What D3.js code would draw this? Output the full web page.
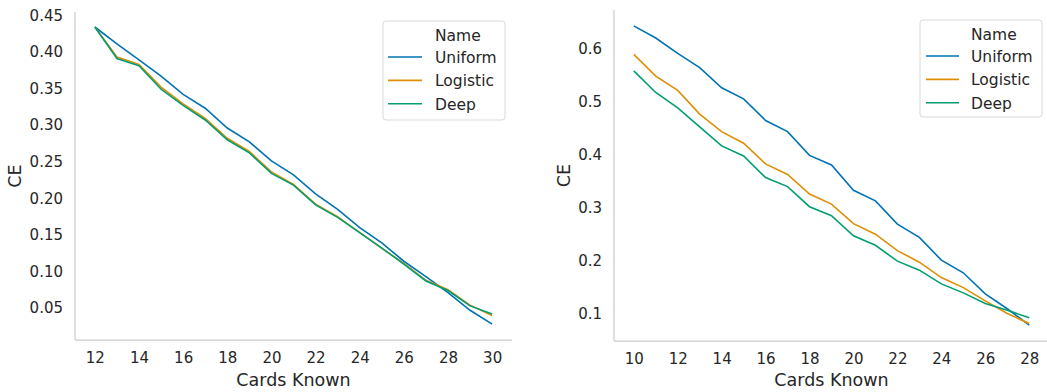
<!DOCTYPE html>
<html><head><meta charset="utf-8">
<script src="https://cdn.jsdelivr.net/npm/d3@7"></script>
<style>body{margin:0;background:#fff}svg{display:block}text{font-family:"DejaVu Sans",sans-serif;fill:#262626}</style>
</head><body>
<svg id="c" width="1047" height="392"></svg>
<script>
const seriesNames = ["Uniform","Logistic","Deep"];
const colors = ["#0173b2","#de8f05","#029e73"];

const leftX = d3.range(12,31);
const leftUniform  = [0.434,0.411,0.389,0.367,0.342,0.323,0.296,0.277,0.251,0.232,0.206,0.185,0.160,0.139,0.114,0.093,0.071,0.047,0.028];
const leftLogistic = [0.434,0.393,0.383,0.352,0.329,0.309,0.282,0.264,0.236,0.219,0.192,0.175,0.153,0.132,0.111,0.088,0.075,0.054,0.040];
const leftDeep     = [0.434,0.391,0.381,0.349,0.327,0.307,0.280,0.262,0.234,0.218,0.191,0.174,0.153,0.132,0.110,0.087,0.074,0.053,0.042];
const leftYTicks = [0.05,0.10,0.15,0.20,0.25,0.30,0.35,0.40,0.45];
const leftXTicks = [12,14,16,18,20,22,24,26,28,30];

const rightX = d3.range(10,29);
const rightUniform  = [0.644,0.621,0.592,0.565,0.527,0.506,0.465,0.444,0.399,0.381,0.333,0.313,0.269,0.244,0.201,0.177,0.137,0.109,0.078];
const rightLogistic = [0.590,0.549,0.522,0.477,0.444,0.422,0.383,0.363,0.326,0.307,0.270,0.250,0.219,0.197,0.168,0.149,0.124,0.100,0.081];
const rightDeep     = [0.559,0.518,0.489,0.453,0.417,0.398,0.357,0.340,0.302,0.285,0.247,0.229,0.199,0.182,0.156,0.139,0.119,0.106,0.092];
const rightYTicks = [0.1,0.2,0.3,0.4,0.5,0.6];
const rightXTicks = [10,12,14,16,18,20,22,24,26,28];

const svg = d3.select("#c");

function panel(cfg){
  const g = svg.append("g");
  const x = d3.scaleLinear().domain(cfg.xDomain).range([cfg.x0, cfg.x1]);
  const y = d3.scaleLinear().domain(cfg.yDomain).range([cfg.y1, cfg.y0]);
  g.append("line").attr("x1",cfg.x0).attr("x2",cfg.x0).attr("y1",cfg.y0).attr("y2",cfg.y1).attr("stroke","#cccccc").attr("stroke-width",1.25);
  g.append("line").attr("x1",cfg.x0).attr("x2",cfg.x1).attr("y1",cfg.y1).attr("y2",cfg.y1).attr("stroke","#cccccc").attr("stroke-width",1.25);
  const ya = d3.axisLeft(y).tickValues(cfg.yTicks).tickSize(0).tickPadding(12).tickFormat(cfg.yFmt);
  const yg = g.append("g").attr("transform",`translate(${cfg.x0},0)`).call(ya);
  const xa = d3.axisBottom(x).tickValues(cfg.xTicks).tickSize(0).tickPadding(12).tickFormat(d3.format("d"));
  const xg = g.append("g").attr("transform",`translate(0,${cfg.y1})`).call(xa);
  [yg,xg].forEach(a=>{a.select(".domain").remove();a.selectAll("text").attr("font-size",15).attr("fill","#262626").style("font-family","DejaVu Sans");});
  g.append("text").attr("x",(cfg.x0+cfg.x1)/2).attr("y",386).attr("text-anchor","middle").attr("font-size",17.5).text("Cards Known");
  g.append("text").attr("transform",`translate(${cfg.ylabX},${(cfg.y0+cfg.y1)/2}) rotate(-90)`).attr("text-anchor","middle").attr("font-size",17.5).text("CE");
  const line = d3.line().x(d=>x(d[0])).y(d=>y(d[1]));
  cfg.series.forEach((s,i)=>{
    g.append("path").datum(cfg.xs.map((v,j)=>[v,s[j]])).attr("d",line).attr("fill","none").attr("stroke",colors[i]).attr("stroke-width",1.6);
  });
  const L = cfg.legend;
  g.append("rect").attr("x",L.x).attr("y",L.y).attr("width",L.w).attr("height",L.h).attr("rx",3).attr("fill","#fff").attr("fill-opacity",0.8).attr("stroke","#d9d9d9").attr("stroke-width",1);
  g.append("text").attr("x",L.tx).attr("y",L.y+19.5).attr("font-size",15.5).text("Name");
  seriesNames.forEach((n,i)=>{
    const yy = L.y+36+i*23.4;
    g.append("line").attr("x1",L.lx0).attr("x2",L.lx1).attr("y1",yy).attr("y2",yy).attr("stroke",colors[i]).attr("stroke-width",1.6);
    g.append("text").attr("x",L.tx).attr("y",yy+6).attr("font-size",15.5).text(n);
  });
}

panel({x0:75,x1:512,y0:12,y1:340,xDomain:[11.1,30.9],yDomain:[0.0064,0.4545],
  xTicks:leftXTicks,yTicks:leftYTicks,yFmt:d3.format(".2f"),xs:leftX,
  series:[leftUniform,leftLogistic,leftDeep],ylabX:21,
  legend:{x:383,y:21,w:122,h:99,lx0:388,lx1:422,tx:435}});
panel({x0:614,x1:1049,y0:10,y1:341,xDomain:[9.1,28.9],yDomain:[0.048,0.674],
  xTicks:rightXTicks,yTicks:rightYTicks,yFmt:d3.format(".1f"),xs:rightX,
  series:[rightUniform,rightLogistic,rightDeep],ylabX:570,
  legend:{x:920,y:20,w:122,h:97,lx0:926,lx1:959,tx:971}});
</script>
</body></html>
